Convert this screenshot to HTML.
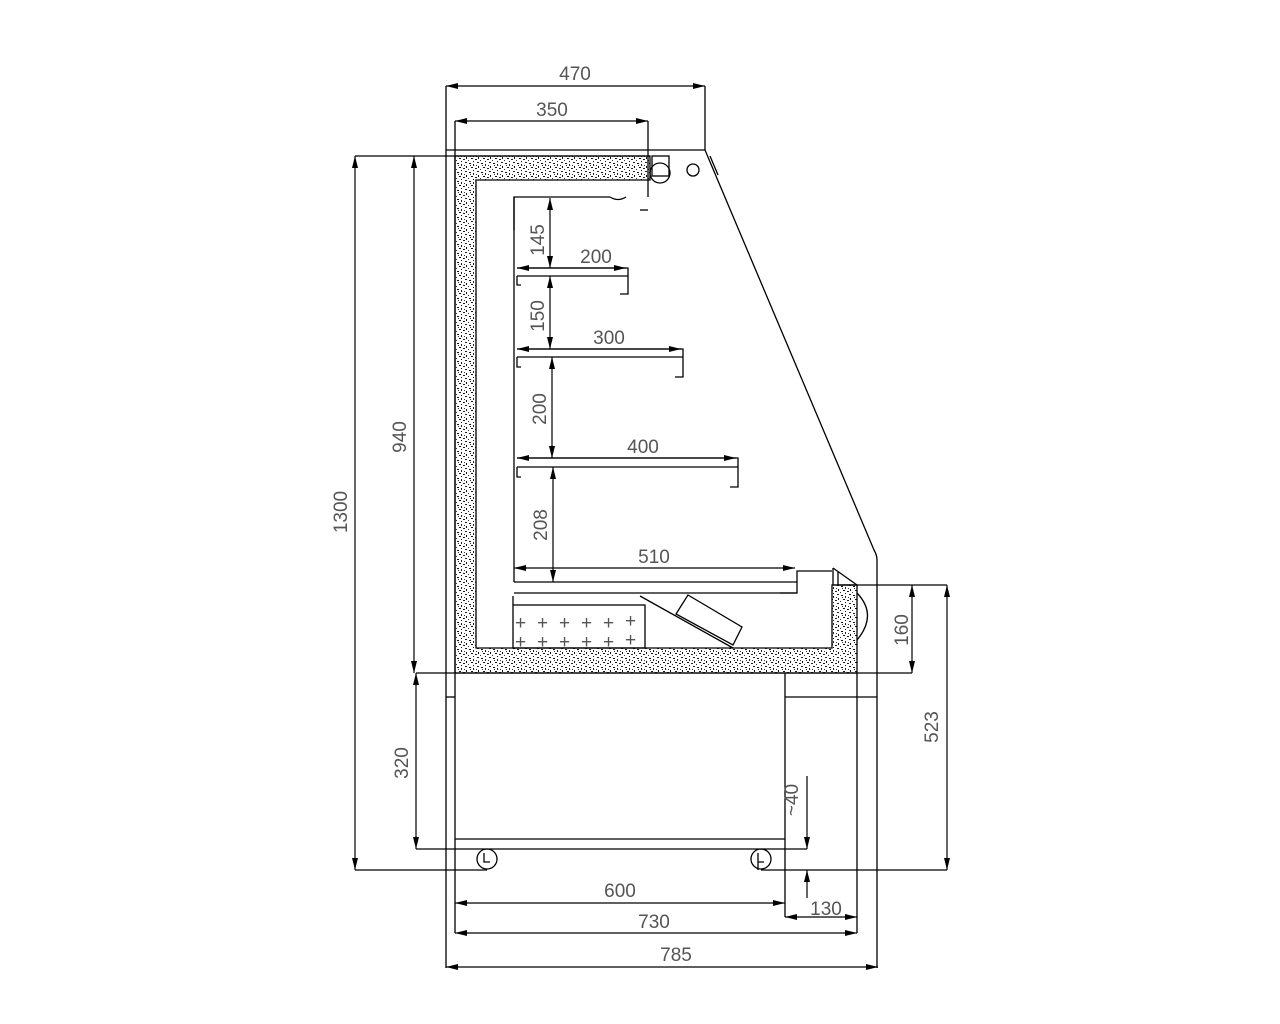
<!DOCTYPE html>
<html><head><meta charset="utf-8"><style>
html,body{margin:0;padding:0;background:#fff;}
svg{display:block}
text{font-family:"Liberation Sans",sans-serif;font-size:19px;fill:#555;}
</style></head><body>
<svg width="1280" height="1024" viewBox="0 0 1280 1024" xmlns="http://www.w3.org/2000/svg">
<defs>
<pattern id="st" width="12" height="9" patternUnits="userSpaceOnUse">
<rect width="12" height="9" fill="#fff"/>
<rect x="1" y="1" width="2" height="1" fill="#111"/>
<rect x="5" y="2" width="1" height="2" fill="#222"/>
<rect x="9" y="0" width="2" height="1" fill="#222"/>
<rect x="3" y="5" width="2" height="1" fill="#111"/>
<rect x="7" y="6" width="2" height="1" fill="#222"/>
<rect x="10" y="4" width="1" height="2" fill="#111"/>
<rect x="0" y="7" width="1" height="1" fill="#333"/>
<rect x="5" y="8" width="1" height="1" fill="#111"/>
<rect x="8" y="3" width="1" height="1" fill="#333"/>
<rect x="2" y="3" width="1" height="1" fill="#333"/>
</pattern>
<marker id="a" viewBox="0 0 12 6" refX="12" refY="3" markerWidth="12" markerHeight="6" orient="auto-start-reverse" markerUnits="userSpaceOnUse">
<path d="M0,0 L12,3 L0,6 Z" fill="#000"/>
</marker>
</defs>
<g fill="none" stroke="#000" stroke-width="1.3">
<path d="M455,156 H650 V180 H476 V648 H832 V585 H857 V673 H455 Z" fill="url(#st)"/>
<line x1="446" y1="86" x2="446" y2="968"/>
<line x1="455" y1="121" x2="455" y2="933"/>
<line x1="705" y1="86" x2="705" y2="150"/>
<line x1="648" y1="121" x2="648" y2="197"/>
<line x1="446" y1="150" x2="705" y2="150"/>
<line x1="355" y1="156" x2="650" y2="156"/>
<path d="M705,150 L874,550 Q877,555 877,560 V968"/>
<line x1="710" y1="156" x2="718" y2="175"/>
<rect x="652" y="156" width="17" height="20"/>
<circle cx="660" cy="173" r="10"/>
<circle cx="693" cy="170" r="6"/>
<path d="M514,230 V197 H610"/>
<path d="M610,197 q8,5 16,0"/>
<path d="M640,210 H648"/>
<line x1="514" y1="197" x2="514" y2="582"/>
<path d="M517,268 H628 V294 H620 M517,276 H628 M517,276 V285 H521"/>
<path d="M517,349 H683 V377 H675 M517,357 H683 M517,357 V367 H521"/>
<path d="M517,458 H738 V487 H730 M517,467 H738 M517,467 V477 H521"/>
<path d="M514,582 H797 V571 H832 M514,593 H797 V582"/>
<path d="M780,593 H797"/>
<path d="M833,568 L857,585 M833,568 V585 M838,572 V585 M833,585 H857"/>
<path d="M857,593 Q878,615 857,640"/>
<rect x="513" y="605" width="132" height="43"/>
<line x1="513" y1="596" x2="513" y2="605"/>
<path d="M640,596 L733,648"/>
<path d="M688,595 L742,627 L733,645 L676,614 Z"/>
<line x1="416" y1="673" x2="912" y2="673"/>
<line x1="785" y1="673" x2="785" y2="917"/>
<line x1="857" y1="673" x2="857" y2="933"/>
<line x1="446" y1="697" x2="455" y2="697"/>
<line x1="785" y1="697" x2="877" y2="697"/>
<line x1="455" y1="839" x2="785" y2="839"/>
<line x1="416" y1="849" x2="807" y2="849"/>
<line x1="355" y1="870" x2="487" y2="870"/>
<line x1="761" y1="870" x2="947" y2="870"/>
<circle cx="487" cy="859" r="10"/>
<circle cx="761" cy="859" r="10"/>
<path d="M484,853 V862 H490 M758,853 V870 M758,862 H764"/>
<line x1="840" y1="585" x2="947" y2="585"/>
</g>
<g stroke="#000" stroke-width="1.2" fill="none">
<line x1="446" y1="86" x2="705" y2="86" marker-start="url(#a)" marker-end="url(#a)"/>
<line x1="455" y1="121" x2="648" y2="121" marker-start="url(#a)" marker-end="url(#a)"/>
<line x1="355" y1="156" x2="355" y2="870" marker-start="url(#a)" marker-end="url(#a)"/>
<line x1="414" y1="156" x2="414" y2="673" marker-start="url(#a)" marker-end="url(#a)"/>
<line x1="416" y1="673" x2="416" y2="849" marker-start="url(#a)" marker-end="url(#a)"/>
<line x1="550" y1="198" x2="550" y2="268" marker-start="url(#a)" marker-end="url(#a)"/>
<line x1="550" y1="276" x2="550" y2="349" marker-start="url(#a)" marker-end="url(#a)"/>
<line x1="552" y1="357" x2="552" y2="458" marker-start="url(#a)" marker-end="url(#a)"/>
<line x1="553" y1="467" x2="553" y2="582" marker-start="url(#a)" marker-end="url(#a)"/>
<line x1="517" y1="268" x2="626" y2="268" marker-start="url(#a)" marker-end="url(#a)"/>
<line x1="517" y1="349" x2="681" y2="349" marker-start="url(#a)" marker-end="url(#a)"/>
<line x1="517" y1="458" x2="736" y2="458" marker-start="url(#a)" marker-end="url(#a)"/>
<line x1="514" y1="568" x2="795" y2="568" marker-start="url(#a)" marker-end="url(#a)"/>
<line x1="912" y1="585" x2="912" y2="673" marker-start="url(#a)" marker-end="url(#a)"/>
<line x1="947" y1="585" x2="947" y2="870" marker-start="url(#a)" marker-end="url(#a)"/>
<line x1="807" y1="776" x2="807" y2="849" marker-end="url(#a)"/>
<line x1="807" y1="898" x2="807" y2="870" marker-end="url(#a)"/>
<line x1="455" y1="903" x2="785" y2="903" marker-start="url(#a)" marker-end="url(#a)"/>
<line x1="785" y1="917" x2="857" y2="917" marker-start="url(#a)" marker-end="url(#a)"/>
<line x1="455" y1="933" x2="857" y2="933" marker-start="url(#a)" marker-end="url(#a)"/>
<line x1="446" y1="967" x2="878" y2="967" marker-start="url(#a)" marker-end="url(#a)"/>
</g>
<text x="548" y="240" transform="rotate(-90 548 240)" text-anchor="middle" dy="-4">145</text>
<text x="548" y="316" transform="rotate(-90 548 316)" text-anchor="middle" dy="-4">150</text>
<text x="550" y="409" transform="rotate(-90 550 409)" text-anchor="middle" dy="-4">200</text>
<text x="551" y="525" transform="rotate(-90 551 525)" text-anchor="middle" dy="-4">208</text>
<text x="575" y="80" text-anchor="middle">470</text>
<text x="552" y="116" text-anchor="middle">350</text>
<text x="596" y="263" text-anchor="middle">200</text>
<text x="609" y="344" text-anchor="middle">300</text>
<text x="643" y="453" text-anchor="middle">400</text>
<text x="654" y="563" text-anchor="middle">510</text>
<text x="620" y="897" text-anchor="middle">600</text>
<text x="826" y="915" text-anchor="middle">130</text>
<text x="654" y="928" text-anchor="middle">730</text>
<text x="676" y="961" text-anchor="middle">785</text>
<text x="350" y="512" transform="rotate(-90 350 512)" text-anchor="middle" dy="-3">1300</text>
<text x="409" y="437" transform="rotate(-90 409 437)" text-anchor="middle" dy="-3">940</text>
<text x="411" y="763" transform="rotate(-90 411 763)" text-anchor="middle" dy="-3">320</text>
<text x="801" y="800" transform="rotate(-90 801 800)" text-anchor="middle" dy="-3">~40</text>
<text x="911" y="630" transform="rotate(-90 911 630)" text-anchor="middle" dy="-3">160</text>
<text x="941" y="727" transform="rotate(-90 941 727)" text-anchor="middle" dy="-3">523</text>
<g font-size="24" fill="#333">
<text x="515" y="629">+</text><text x="537" y="629">+</text><text x="559" y="629">+</text><text x="581" y="629">+</text><text x="603" y="629">+</text><text x="625" y="627">+</text>
<text x="515" y="648">+</text><text x="537" y="648">+</text><text x="559" y="648">+</text><text x="581" y="648">+</text><text x="603" y="648">+</text><text x="625" y="646">+</text>
</g>
</svg>
</body></html>
